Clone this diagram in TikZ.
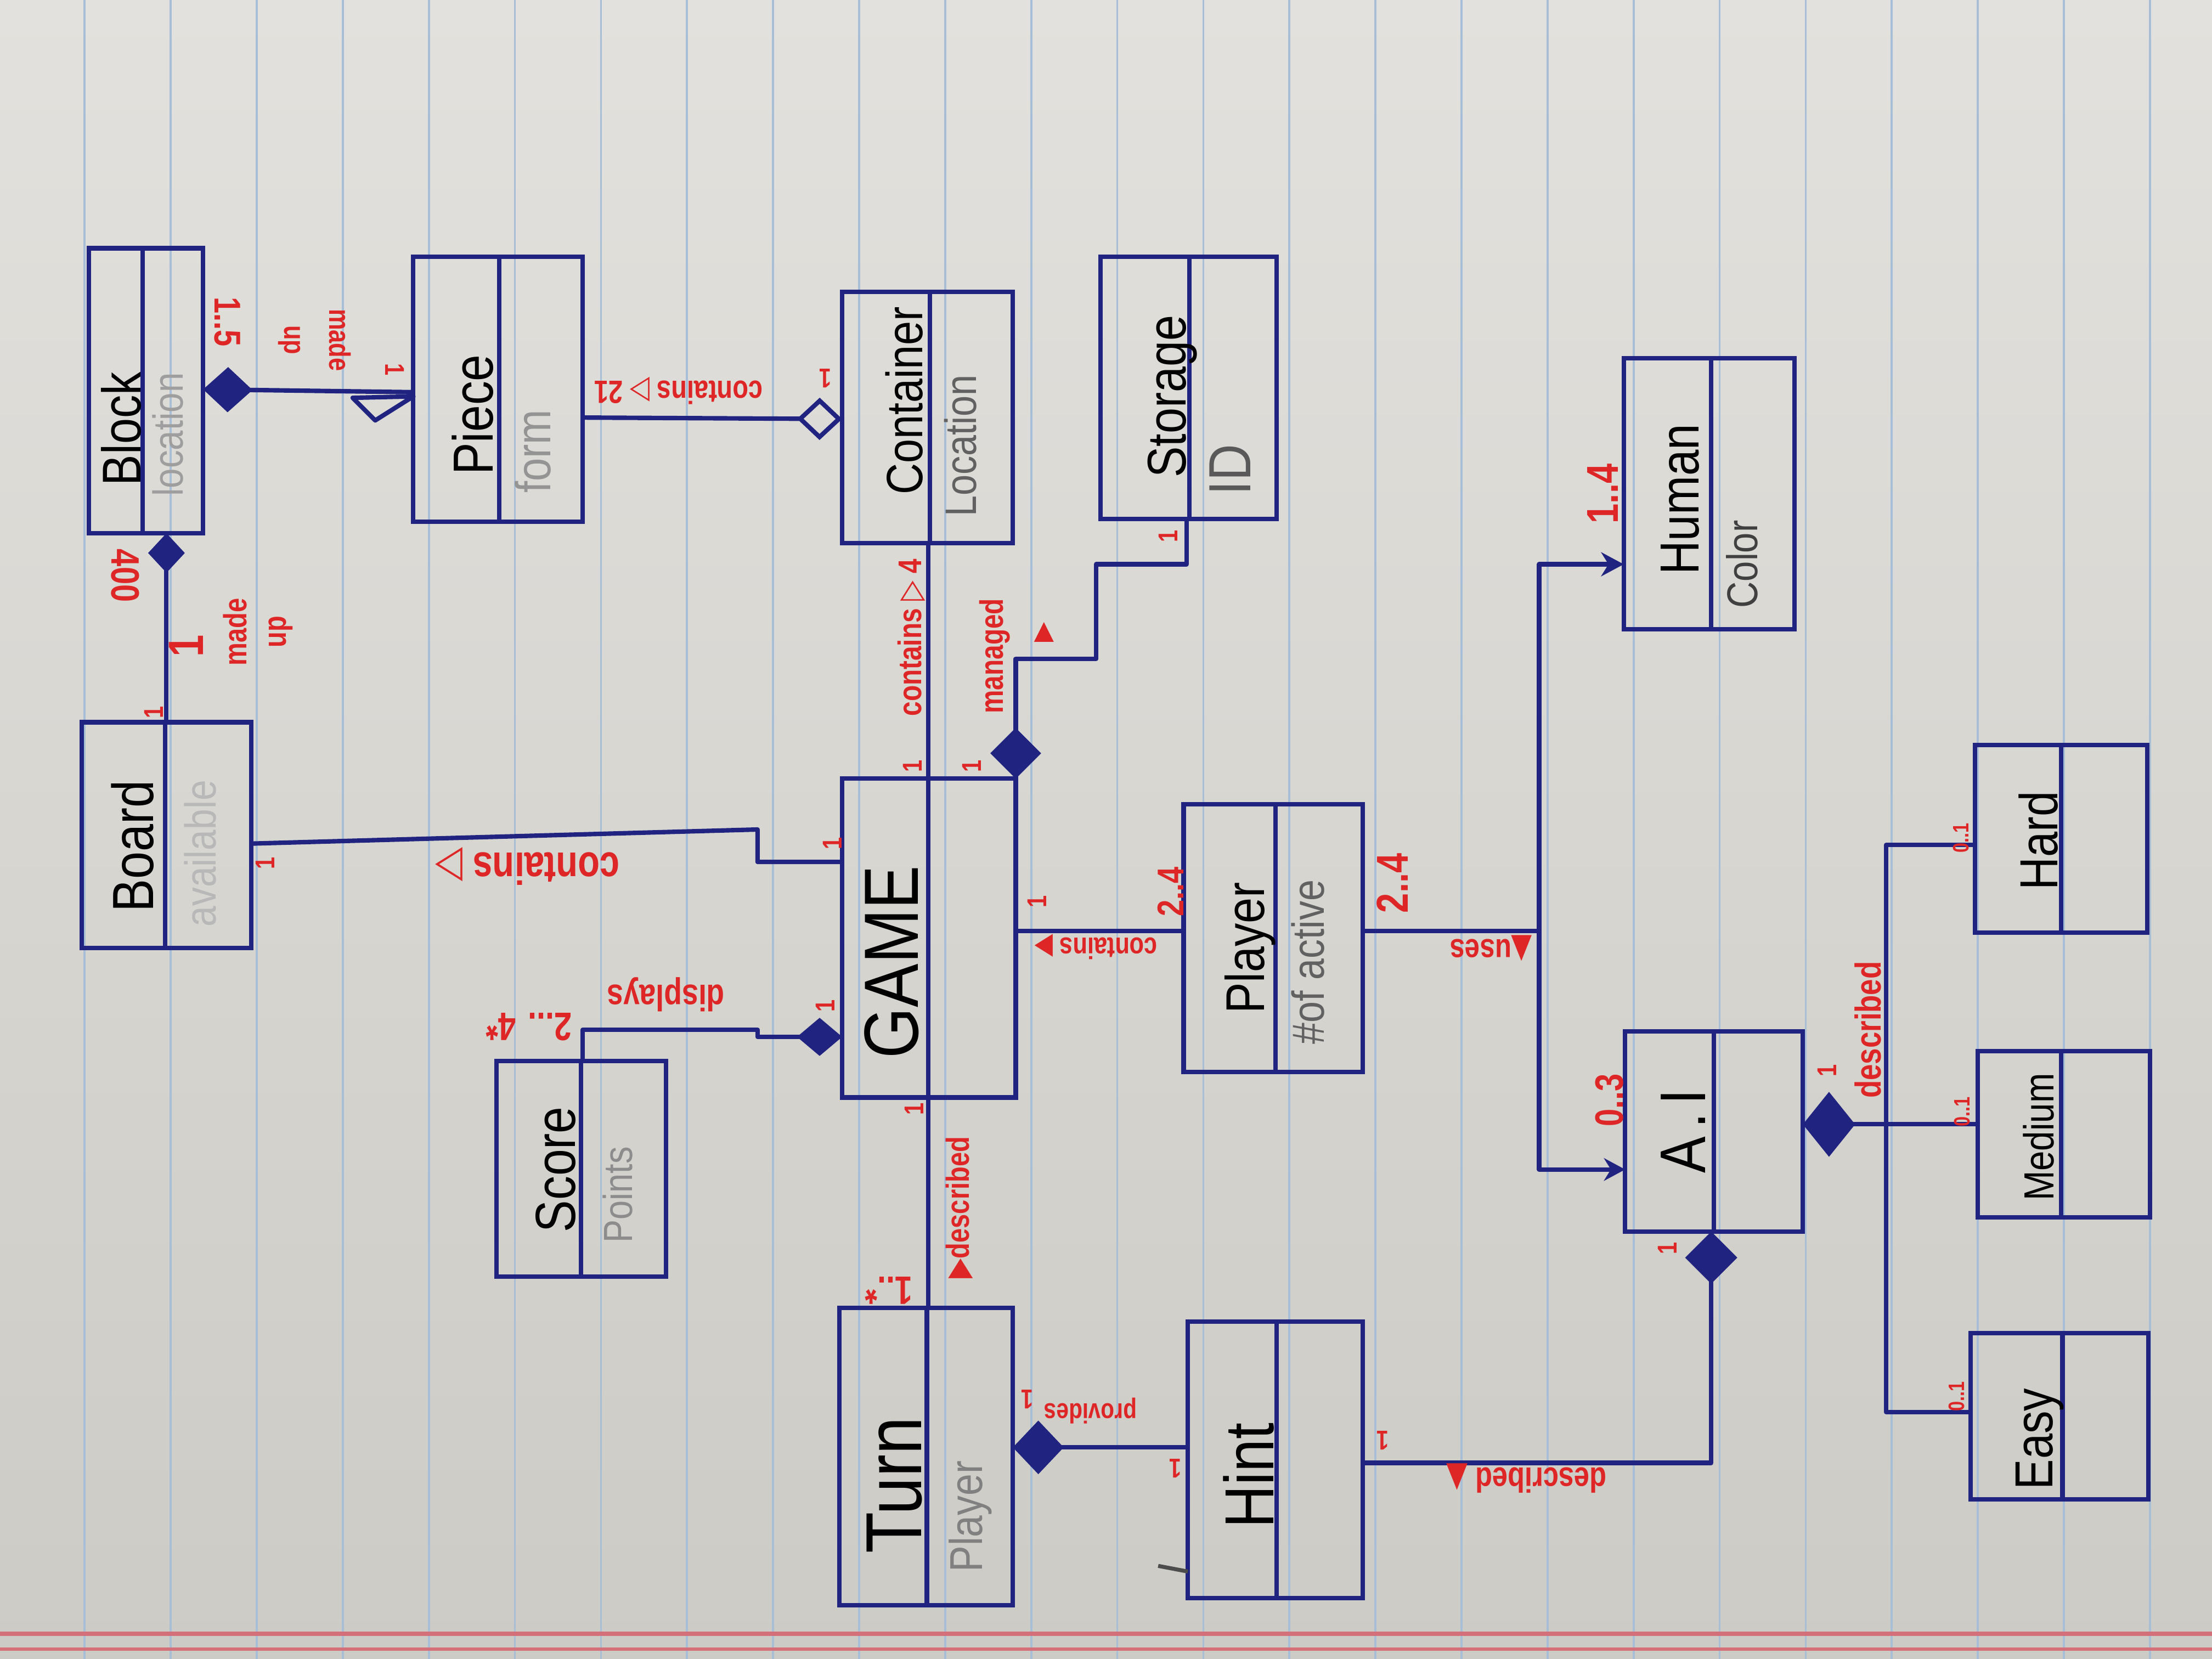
\documentclass[tikz,border=0pt]{standalone}
\usepackage{fontspec}
\setmainfont{Liberation Sans}
\newfontfamily\symf{DejaVu Sans}
\usetikzlibrary{arrows.meta,fit}
\definecolor{inkc}{RGB}{32,36,128}
\definecolor{redc}{RGB}{222,38,38}
\definecolor{papertop}{RGB}{226,225,221}
\definecolor{paperbot}{RGB}{205,203,197}
\definecolor{ruling}{RGB}{168,189,214}
\definecolor{marginred}{RGB}{212,112,122}
\newcommand\umlbox[6]{%
  \node[umlframe, fit={(#2,#3) (#4,#5)}] (#1) {};
  \draw[inkline] (#6,#3) -- (#6,#5);}
\tikzset{
  umlframe/.style={draw=inkc, line width=0.9pt, inner sep=0pt, outer sep=0pt},
  inkline/.style={draw=inkc, line width=0.9pt},
  conn/.style={draw=inkc, line width=0.9pt, line join=round},
  clsname/.style={xscale=0.85, inner sep=0pt, text=black, font=\fontsize{#1}{#1}\selectfont},
  attr/.style={xscale=0.85, inner sep=0pt, font=\fontsize{#1}{#1}\selectfont},
  lab/.style={xscale=0.8, inner sep=0pt, text=redc, align=center, font=\bfseries\fontsize{#1}{#1}\selectfont},
}
\begin{document}
\begin{tikzpicture}[x=0.01cm, y=-0.01cm]
% paper
\shade[top color=papertop, bottom color=paperbot] (0,0) rectangle (1568,1176);
\useasboundingbox (0,0) rectangle (1568,1176);
\foreach \k in {0,...,24} \draw[ruling, line width=0.4pt] ({60+61*\k},0) -- ({60+61*\k},1176);
\draw[marginred, line width=0.9pt] (0,1158) -- (1568,1158);
\draw[marginred, line width=0.6pt] (0,1169) -- (1568,1169);

% class boxes
\umlbox{block}{63}{176}{144}{378}{101}
\umlbox{board}{58}{512}{178}{672}{117}
\umlbox{piece}{293}{182}{413}{370}{354}
\umlbox{container}{597}{207}{718}{385}{659}
\umlbox{storage}{780}{182}{905}{368}{843}
\umlbox{human}{1151}{254}{1272}{446}{1213}
\umlbox{game}{597}{552}{720}{778}{658}
\umlbox{player}{839}{570}{966}{760}{904}
\umlbox{score}{352}{752}{472}{905}{412}
\umlbox{turn}{595}{927}{718}{1138}{657}
\umlbox{hint}{842}{937}{966}{1133}{905}
\umlbox{ai}{1152}{731}{1278}{873}{1215}
\umlbox{hard}{1400}{528}{1522}{661}{1461}
\umlbox{medium}{1402}{745}{1524}{863}{1461}
\umlbox{easy}{1397}{945}{1523}{1063}{1462}

% class names
\node[rotate=90, clsname=11] (nblock) at (86,304) {Block};
\node[rotate=90, clsname=11.7] (nboard) at (94,600) {Board};
\node[rotate=90, clsname=11.4] (npiece) at (335,294) {Piece};
\node[rotate=90, clsname=10.3] (ncontainer) at (641,284) {Container};
\node[rotate=90, clsname=11] (nstorage) at (831,281) {Storage};
\node[rotate=90, clsname=11.1] (nhuman) at (1191,354) {Human};
\node[rotate=90, clsname=15.5] (ngame) at (632,682) {GAME};
\node[rotate=90, clsname=11] (nplayer) at (886,672) {Player};
\node[rotate=90, clsname=11.4] (nscore) at (394,829) {Score};
\node[rotate=90, clsname=16] (nturn) at (634,1053) {Turn};
\node[rotate=90, clsname=14] (nhint) at (885,1046) {Hint};
\node[rotate=90, clsname=13] (nai) at (1193,802) {A\kern2pt.\kern2pt I};
\node[rotate=90, clsname=10.8] (nhard) at (1445,596) {Hard};
\node[rotate=90, clsname=8.5] (nmedium) at (1445,806) {Medium};
\node[rotate=90, clsname=10.8] (neasy) at (1446,1020) {Easy};

% attributes
\node[rotate=90, attr=8.5, text=black!38] (ablock) at (119,308) {location};
\node[rotate=90, attr=8.8, text=black!28] (aboard) at (142,605) {available};
\node[rotate=90, attr=9.9, text=black!42] (apiece) at (378,320) {form};
\node[rotate=90, attr=8.9, text=black!62] (acontainer) at (681,316) {Location};
\node[rotate=90, attr=12, text=black!65] (astorage) at (872,333) {ID};
\node[rotate=90, attr=8.7, text=black!75] (ahuman) at (1235,400) {Color};
\node[rotate=90, attr=9.1, text=black!62] (aplayer) at (927,682) {\#of active};
\node[rotate=90, attr=8.2, text=black!45] (ascore) at (438,847) {Points};
\node[rotate=90, attr=9.3, text=black!50] (aturn) at (688,1075) {Player};

% junctions
\coordinate (usesj) at (1091,660);
\coordinate (descj) at (1337,797);

% connectors
\draw[conn, -{Diamond[length=0.28cm,width=0.26cm]}] (118,0 |- board.north) -- (118,0 |- block.south);
\draw[conn, {Diamond[length=0.35cm,width=0.32cm]}-] (block.east |- 0,276) -- (piece.west |- 0,278);
\draw[conn] (250,282) -- (piece.west |- 0,281) -- (266,298) -- cycle;
\draw[conn, -{Diamond[open,length=0.32cm,width=0.3cm]}] (piece.east |- 0,296) -- (container.west |- 0,297);
\draw[conn] (board.east |- 0,598) -- (537,588) -- (537,611) -- (game.west |- 0,611);
\draw[conn] (658,0 |- game.north) -- (658,0 |- container.south);
\draw[conn, {Diamond[length=0.36cm,width=0.36cm]}-] (game.north east) -- (720,467) -- (777,467) -- (777,400) -- (841,400) -- (841,0 |- storage.south);
\draw[conn] (game.east |- 0,660) -- (player.west |- 0,660);
\draw[conn, -{Diamond[length=0.32cm,width=0.27cm]}] (413,0 |- score.north) -- (413,730) -- (537,730) -- (537,735) -- (game.west |- 0,735);
\draw[conn] (658,0 |- game.south) -- (658,0 |- turn.north);
\draw[conn, {Diamond[length=0.36cm,width=0.38cm]}-] (turn.east |- 0,1026) -- (hint.west |- 0,1026);
\draw[conn, -{Diamond[length=0.37cm,width=0.37cm]}] (hint.east |- 0,1037) -- (1213,1037) -- (1213,0 |- ai.south);
\draw[conn, -{Stealth[length=0.16cm,width=0.17cm]}] (player.east |- usesj) -- (usesj) -- (1091,400) -- (human.west |- 0,400);
\draw[conn, -{Stealth[length=0.15cm,width=0.16cm]}] (usesj) -- (1091,829) -- (ai.west |- 0,829);
\draw[conn, {Diamond[length=0.37cm,width=0.46cm]}-] (ai.east |- descj) -- (descj) -- (medium.west |- descj);
\draw[conn] (hard.west |- 0,599) -- (1337,599) -- (1337,1001) -- (easy.west |- 0,1001);
\draw[black!70, line width=0.8pt] (821,1110) -- (842,1114);

% red labels
\node[rotate=90, lab=5.5] (l1) at (109,505) {1};
\node[rotate=-90, lab=8] (l2) at (89,408) {400};
\node[rotate=90, lab=10] (l3) at (132,458) {1};
\node[rotate=90, lab=6.5, font=\bfseries\fontsize{6.5}{8}\selectfont] (l4) at (183,448) {made\\up};
\node[rotate=-90, lab=7.5] (l5) at (161,228) {1..5};
\node[rotate=-90, lab=6, font=\bfseries\fontsize{6}{9}\selectfont] (l6) at (223,241) {made\\up};
\node[rotate=-90, lab=5.5] (l7) at (280,262) {1};
\node[rotate=180, lab=6.5] (l8) at (481,277) {contains {\symf ▷} 21};
\node[rotate=180, lab=5.5] (l9) at (585,268) {1};
\node[rotate=90, lab=5.5] (l10) at (188,612) {1};
\node[rotate=180, lab=9] (l11) at (374,614) {contains {\symf ▷}};
\node[rotate=90, lab=5.5] (l12) at (590,598) {1};
\node[rotate=90, lab=6.6] (l13) at (646,452) {contains {\symf ▷} 4};
\node[rotate=90, lab=5.5] (l14) at (647,543) {1};
\node[rotate=90, lab=6.6] (l15) at (705,465) {managed};
\fill[redc] (733,455) -- (747,455) -- (740,441) -- cycle;
\node[rotate=90, lab=5.5] (l17) at (689,543) {1};
\node[rotate=90, lab=5.5] (l18) at (828,380) {1};
\node[rotate=90, lab=5.5] (l19) at (735,639) {1};
\node[rotate=180, lab=6] (l20) at (777,671) {contains {\symf ▶}};
\node[rotate=90, lab=7.5] (l21) at (830,632) {2..4};
\node[rotate=180, lab=7.4] (l22) at (472,705) {displays};
\node[rotate=180, lab=8] (l23) at (375,728) {2... 4*};
\node[rotate=90, lab=5.5] (l24) at (585,713) {1};
\node[rotate=90, lab=5.5] (l25) at (648,786) {1};
\node[rotate=90, lab=6.5] (l26) at (680,856) {{\symf ▶}described};
\node[rotate=180, lab=8] (l27) at (630,915) {1..*};
\node[rotate=180, lab=5.5] (l28) at (728,992) {1};
\node[rotate=180, lab=5.6] (l29) at (773,1000) {provides};
\node[rotate=180, lab=5.5] (l30) at (833,1041) {1};
\node[rotate=180, lab=5.5] (l31) at (980,1021) {1};
\node[rotate=180, lab=7] (l32) at (1082,1048) {described {\symf ▲}};
\node[rotate=90, lab=5.5] (l33) at (1182,885) {1};
\node[rotate=90, lab=9] (l34) at (987,626) {2..4};
\node[rotate=180, lab=6.8] (l35) at (1057,672) {{\symf ▲}uses};
\node[rotate=90, lab=9] (l36) at (1136,350) {1..4};
\node[rotate=90, lab=8] (l37) at (1141,780) {0..3};
\node[rotate=90, lab=5.5] (l38) at (1295,759) {1};
\node[rotate=90, lab=7.3] (l39) at (1324,730) {described};
\node[rotate=90, lab=4.5] (l40) at (1390,594) {0..1};
\node[rotate=90, lab=4.5] (l41) at (1391,788) {0..1};
\node[rotate=90, lab=4.5] (l42) at (1387,990) {0..1};
\end{tikzpicture}
\end{document}
